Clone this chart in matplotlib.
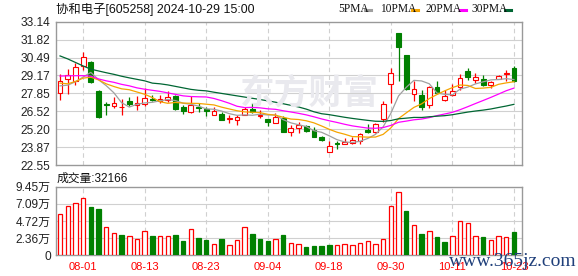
import numpy as np
import pandas as pd
import matplotlib
matplotlib.use('Agg')
import matplotlib.pyplot as plt
from matplotlib.lines import Line2D

plt.rcParams['font.family'] = ['Liberation Sans', 'Noto Sans CJK SC']

# K线数据 (60个交易日, 从图上读)
opens = [27.87, 28.90, 28.78, 29.90, 30.13, 28.04, 27.06, 26.94, 26.82, 27.26,
         26.99, 27.06, 27.43, 27.31, 27.38, 27.68, 26.87, 26.43, 26.82, 26.70,
         26.28, 26.33, 25.96, 25.86, 26.23, 26.70, 26.18, 25.94, 25.69, 26.03,
         24.98, 25.27, 25.45, 25.10, 24.59, 23.53, 24.20, 24.10, 24.20, 24.32,
         25.13, 25.01, 25.94, 28.51, 32.27, 30.69, 27.80, 27.75, 26.97, 28.31,
         27.33, 27.75, 28.29, 29.51, 28.85, 28.90, 28.46, 28.93, 29.29, 29.71]
highs = [29.29, 29.64, 30.08, 30.93, 30.22, 28.06, 27.19, 27.58, 27.43, 27.58,
         27.63, 28.24, 27.70, 27.73, 27.99, 27.75, 27.01, 27.63, 27.14, 26.84,
         26.84, 26.50, 26.21, 26.25, 26.84, 27.14, 26.65, 25.96, 26.40, 26.16,
         25.47, 25.72, 25.52, 25.37, 24.73, 24.29, 24.34, 24.57, 24.64, 24.93,
         25.59, 25.67, 27.26, 29.71, 32.27, 30.69, 28.73, 28.12, 28.36, 28.78,
         28.07, 28.53, 29.27, 29.71, 29.34, 29.22, 28.75, 29.22, 29.59, 29.88]
lows = [27.33, 27.77, 28.48, 29.54, 28.61, 26.06, 26.28, 26.77, 26.28, 26.89,
        26.65, 26.94, 27.28, 27.14, 27.19, 26.65, 26.35, 26.38, 26.43, 26.16,
        26.21, 25.84, 25.62, 25.50, 26.21, 26.40, 26.01, 25.42, 25.67, 24.98,
        24.69, 24.93, 24.98, 24.59, 24.34, 23.53, 23.71, 24.10, 24.10, 24.07,
        24.93, 24.88, 25.74, 27.14, 28.78, 28.12, 27.26, 26.60, 26.77, 27.82,
        27.26, 27.68, 28.12, 28.85, 28.61, 28.41, 28.24, 28.90, 28.73, 28.68]
closes = [28.78, 29.19, 29.78, 30.52, 28.70, 26.08, 26.99, 27.14, 26.87, 27.08,
          27.10, 27.50, 27.36, 27.43, 27.55, 26.72, 26.52, 26.97, 26.75, 26.53,
          26.57, 25.86, 26.01, 26.13, 26.70, 26.43, 26.23, 25.74, 26.13, 24.98,
          25.25, 25.52, 25.08, 24.59, 24.39, 23.95, 24.10, 24.25, 24.37, 24.86,
          24.98, 25.59, 27.06, 29.34, 31.30, 28.15, 28.18, 26.84, 28.29, 27.87,
          27.68, 27.99, 28.97, 29.02, 29.05, 28.46, 28.70, 29.10, 29.34, 28.73]
# 成交量, 单位: 万股
volumes = [5.74, 6.84, 7.25, 7.94, 6.70, 6.33, 3.86, 3.12, 2.75, 2.71,
           2.30, 3.40, 2.62, 2.71, 2.62, 2.75, 1.93, 3.67, 2.34, 2.07,
           1.61, 2.20, 1.38, 2.07, 3.86, 2.89, 2.20, 1.93, 2.20, 2.75,
           1.74, 1.61, 1.10, 1.24, 1.24, 1.38, 1.42, 1.51, 1.38, 1.74,
           2.02, 1.61, 2.30, 6.84, 8.77, 6.06, 4.22, 2.89, 3.40, 2.48,
           1.79, 2.62, 4.77, 4.50, 2.71, 2.48, 2.07, 2.62, 2.48, 3.2166]

# 均线最前面几天 (窗口外的数据看不到, 直接从图上读)
ma5_head = [28.40, 28.45, 28.70, 29.05]
ma10_head = [28.60, 28.55, 28.72, 28.97, 29.04, 28.84, 28.55, 28.35, 28.18]
ma20_head = [29.12, 29.14, 29.15, 29.15, 29.12, 28.91, 28.77, 28.66, 28.51, 28.40,
             28.25, 28.15, 28.07, 27.99, 27.88, 27.77, 27.66, 27.61, 27.59]
ma30_head = [30.61, 30.39, 30.13, 29.87, 29.63, 29.50, 29.37, 29.25, 29.11, 28.99,
             28.88, 28.77, 28.60, 28.55, 28.47, 28.36, 28.25, 28.14, 28.07, 28.03,
             27.93, 27.84, 27.75, 27.66, 27.57, 27.48, 27.39, 27.29, 27.19]

date_labels = ['08-01', '08-13', '08-23', '09-04', '09-18', '09-30', '10-11', '10-23']
date_pos = [3, 11, 19, 27, 35, 43, 51, 59]

price_labels = ['22.55', '23.87', '25.20', '26.52', '27.85', '29.17', '30.49', '31.82', '33.14']
vol_labels = ['0', '2.36万', '4.72万', '7.09万', '9.45万']

RED = '#ff0000'
GREEN = '#008000'
GRID = '#d0d0d0'
FRAME = '#999999'

n = len(closes)
x = np.arange(n)
o = np.array(opens)
c = np.array(closes)
up = c >= o

cs = pd.Series(closes)
ma5 = np.r_[ma5_head, cs.rolling(5).mean().values[4:]]
ma10 = np.r_[ma10_head, cs.rolling(10).mean().values[9:]]
ma20 = np.r_[ma20_head, cs.rolling(20).mean().values[19:]]
ma30 = np.r_[ma30_head, cs.rolling(30).mean().values[29:]]

fig = plt.figure(figsize=(5.78, 2.76), dpi=100)
W, H = 578, 276
ax = fig.add_axes([55.5 / W, 1 - 165 / H, (522 - 55.5) / W, (165 - 21.7) / H])
axv = fig.add_axes([55.5 / W, 1 - 255.3 / H, (522 - 55.5) / W, (255.3 - 186.7) / H])

for a in (ax, axv):
    a.set_xlim(-0.59, n + 0.05)
    for s in a.spines.values():
        s.set_color(FRAME)
        s.set_linewidth(1.0)
    a.tick_params(length=0, labelsize=8.6, colors='#222222')
    for p in date_pos:
        a.axvline(p, color=GRID, lw=0.8, ls=(0, (4, 3)), zorder=0)

# 价格区
p_lo, p_hi = float(price_labels[0]), float(price_labels[-1])
pt = np.linspace(p_lo, p_hi, len(price_labels))
ax.set_ylim(p_lo, p_hi)
ax.set_yticks(pt)
ax.set_yticklabels(price_labels)
ax.set_xticks([])
for v in pt[1:-1]:
    ax.axhline(v, color=GRID, lw=0.8, zorder=0)

fig.text(309 / W, 1 - 93 / H, '东方财富', fontsize=25, color='#e9e9ee',
         fontweight='bold', family=['Noto Sans CJK SC'], ha='center', va='center', zorder=0)

ax.vlines(x, lows, highs, colors=np.where(up, RED, GREEN), lw=0.9, zorder=2)
body = np.maximum(np.abs(c - o), 0.015)
ax.bar(x[up], body[up], bottom=o[up], width=0.62, facecolor='white',
       edgecolor=RED, lw=0.8, zorder=3)
ax.bar(x[~up], body[~up], bottom=c[~up], width=0.62, facecolor=GREEN,
       edgecolor=GREEN, lw=0.8, zorder=3)

ax.plot(x, ma5, color='#a0a0a0', lw=0.9, zorder=4)
ax.plot(x, ma10, color='#f5a400', lw=0.9, zorder=4)
ax.plot(x, ma20, color='#ff00ff', lw=0.9, zorder=4)
ax.plot(x, ma30, color='#006633', lw=0.9, zorder=4)

# 成交量区
vol_top = 9.45
vt = np.linspace(0, vol_top, len(vol_labels))
axv.set_ylim(0, vol_top)
axv.set_yticks(vt)
axv.set_yticklabels(vol_labels)
for v in vt[1:-1]:
    axv.axhline(v, color=GRID, lw=0.8, zorder=0)
vol = np.array(volumes)
vup = np.r_[True, c[1:] >= c[:-1]]
axv.bar(x[vup], vol[vup], width=0.58, facecolor='white', edgecolor=RED, lw=0.9, zorder=3)
axv.bar(x[~vup], vol[~vup], width=0.58, facecolor=GREEN, edgecolor=GREEN, lw=0.9, zorder=3)
axv.set_xticks(date_pos)
axv.set_xticklabels(date_labels, color=RED, fontsize=8)
axv.tick_params(axis='x', pad=5)

# 标题和图例
fig.text(56 / W, 1 - 9 / H, '协和电子[605258] 2024-10-29 15:00', fontsize=8.9,
         va='center', color='#111111')
fig.text(57 / W, 1 - 178.3 / H, f'成交量:{round(volumes[-1] * 10000)}', fontsize=8.5,
         va='center', color='#111111')

legend = [('5PMA', 338, 365, 371, '#a0a0a0'), ('10PMA', 380, 412, 418, '#f5a400'),
          ('20PMA', 426, 460, 466, '#ff00ff'), ('30PMA', 471, 505, 511, '#006633')]
for name, tx, d0, d1, col in legend:
    fig.text(tx / W, 1 - 9.5 / H, name, fontsize=8.3, family=['Liberation Serif'],
             va='center', color='#111111')
    fig.add_artist(Line2D([d0 / W, d1 / W], [1 - 9.5 / H] * 2, color=col, lw=2.2))

fig.text(513 / W, 1 - 261 / H, 'www.365jz.com', fontsize=14, family=['Liberation Serif'],
         color='#1f3f7a', ha='center', va='center', zorder=10)

fig.savefig('out.png', dpi=100)
